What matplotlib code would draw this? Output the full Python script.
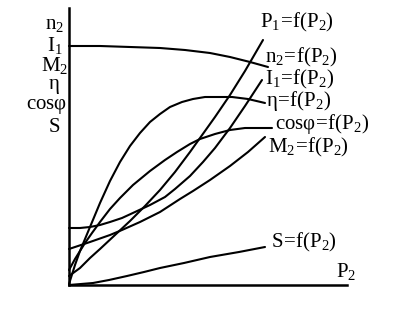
import matplotlib
matplotlib.use("Agg")
import matplotlib.pyplot as plt

plt.rcParams['mathtext.fontset'] = 'custom'
plt.rcParams['mathtext.rm'] = 'Liberation Serif'
plt.rcParams['mathtext.it'] = 'Liberation Serif'
plt.rcParams['font.family'] = ['Liberation Serif', 'DejaVu Serif']

# P2 values (arbitrary units) and curves
eta_x = [0, 6, 11, 16, 21, 31, 41, 51, 61, 71, 81, 91, 101, 113, 124, 136, 149, 163, 179, 196]
eta_y = [1, 20, 34, 46, 58, 82, 104, 123, 139, 152, 163, 171, 178, 183, 186, 188, 188, 188, 186, 182]

cos_x = [0, 6, 11, 16, 23, 31, 41, 51, 64, 81, 96, 108, 121, 131, 146, 161, 176, 191, 203]
cos_y = [15, 26, 34, 42, 52, 63, 76, 87, 100, 114, 125, 133, 141, 146, 151, 155, 157, 157, 157]

p1_x = [0, 11, 21, 31, 46, 61, 76, 91, 106, 121, 131, 146, 161, 176, 194]
p1_y = [9, 17, 27, 36, 50, 64, 79, 95, 113, 133, 147, 168, 190, 214, 245]

i1_x = [0, 11, 21, 31, 41, 53, 66, 81, 96, 106, 121, 134, 146, 161, 176, 193]
i1_y = [57, 57, 58, 60, 63, 67, 73, 80, 88, 96, 109, 123, 137, 157, 179, 205]

m2_x = [0, 21, 41, 53, 71, 91, 111, 124, 141, 161, 179, 196]
m2_y = [36, 43, 50, 55, 63, 73, 86, 94, 105, 119, 133, 148]

n2_x = [0, 31, 61, 91, 116, 141, 161, 181, 199]
n2_y = [239, 239, 238, 237, 235, 232, 228, 223, 218]

s_x = [0, 12, 24, 40, 58, 75, 91, 115, 141, 170, 196]
s_y = [0, 1, 2, 5, 9, 13, 17, 22, 28, 33, 38]

left_labels = [r'$\mathregular{n_2}$', r'$\mathregular{I_1}$', r'$\mathregular{M_2}$',
               r'$\mathregular{\eta}$', r'$\mathregular{cos\varphi}$', r'$\mathregular{S}$']
curve_labels = [r'$\mathregular{P_1\!=\!f(P_2)}$', r'$\mathregular{n_2\!=\!f(P_2)}$',
                r'$\mathregular{I_1\!=\!f(P_2)}$', r'$\mathregular{\eta\!=\!f(P_2)}$',
                r'$\mathregular{cos\varphi\!=\!f(P_2)}$', r'$\mathregular{M_2\!=\!f(P_2)}$',
                r'$\mathregular{S\!=\!f(P_2)}$']
x_label = r'$\mathregular{P_2}$'

W, H = 399, 320
fig = plt.figure(figsize=(W / 100, H / 100), dpi=100)
ax = fig.add_axes([69 / W, (H - 285) / H, 278 / W, 277 / H])
ax.set_xlim(0, 278)
ax.set_ylim(0, 277)
for side in ['top', 'right']:
    ax.spines[side].set_visible(False)
for side in ['left', 'bottom']:
    ax.spines[side].set_linewidth(1.8)
ax.set_xticks([])
ax.set_yticks([])
ax.patch.set_alpha(0)

lw = 1.5
for xs, ys in [(eta_x, eta_y), (cos_x, cos_y), (p1_x, p1_y), (i1_x, i1_y),
               (m2_x, m2_y), (n2_x, n2_y), (s_x, s_y)]:
    ax.plot(xs, ys, color='black', lw=lw, solid_capstyle='round',
            solid_joinstyle='round', clip_on=False)

fs = 15
def px_text(x, y, s, ha='left'):
    fig.text(x / W, 1 - y / H, s, ha=ha, va='center', fontsize=fs, color='black')

left_pos = [(55, 24), (55, 45), (55, 65), (54, 86), (47, 106), (54, 127)]
for (x, y), s in zip(left_pos, left_labels):
    px_text(x, y, s, ha='center')

curve_pos = [(260, 22), (265, 57), (265, 79), (266, 101), (275, 124), (268, 147), (271, 242)]
for (x, y), s in zip(curve_pos, curve_labels):
    px_text(x, y, s)

px_text(336, 272, x_label)

fig.savefig('out.png', dpi=100, facecolor='white')
